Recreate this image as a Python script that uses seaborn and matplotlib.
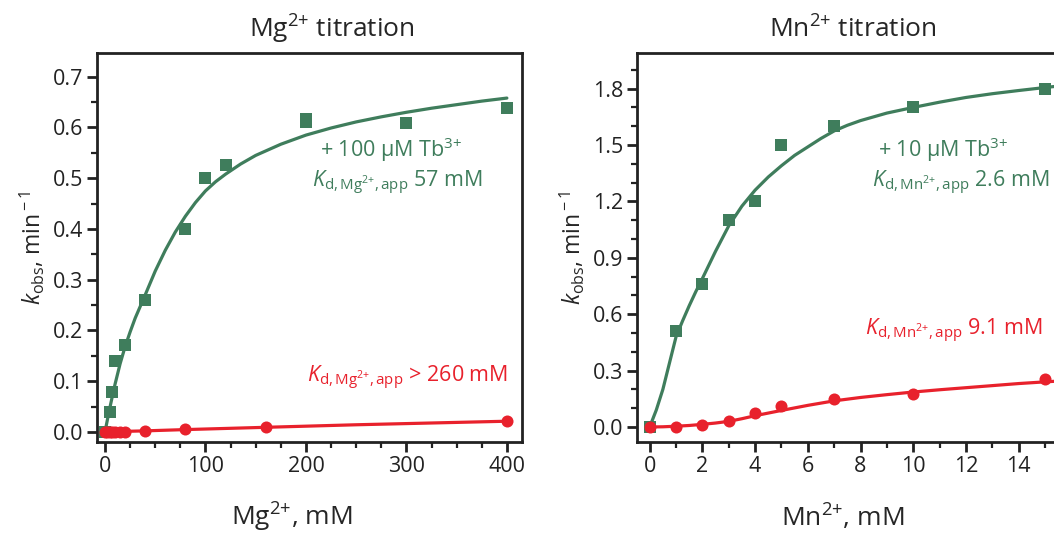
import matplotlib
matplotlib.use('Agg')
import matplotlib.pyplot as plt
import matplotlib.ticker as mticker
import pandas as pd
import seaborn as sns

sns.set_style("ticks")
plt.rcParams['font.family'] = ['Open Sans', 'DejaVu Sans']
plt.rcParams['mathtext.fontset'] = 'custom'
plt.rcParams['mathtext.rm'] = 'Open Sans'
plt.rcParams['mathtext.it'] = 'Open Sans:italic'
plt.rcParams['mathtext.bf'] = 'Open Sans:bold'

green = '#3f7d5c'
red = '#e8212c'

# _____Mg2+ titration data_____
mg_tb_x = [0, 5, 7, 10, 20, 40, 80, 100, 120, 200, 200, 300, 400]
mg_tb_y = [0.0, 0.039, 0.079, 0.14, 0.171, 0.26, 0.40, 0.50, 0.526, 0.611, 0.616, 0.609, 0.639]
mg_x = [0, 2, 5, 7, 10, 15, 20, 40, 80, 160, 400]
mg_y = [0.0, 0.0, 0.0, 0.0, 0.0, 0.0, 0.0, 0.001, 0.005, 0.010, 0.021]
# fit curves
mg_tb_fit_x = [0, 2.5, 5, 7.5, 10, 15, 20, 25, 30, 40, 50, 60, 70, 80, 90, 100, 110, 120, 135,
               150, 175, 200, 225, 250, 275, 300, 325, 350, 375, 400]
mg_tb_fit_y = [0.0, 0.025, 0.049, 0.072, 0.094, 0.134, 0.168, 0.197, 0.224, 0.27, 0.317, 0.358,
               0.394, 0.425, 0.452, 0.475, 0.493, 0.508, 0.528, 0.545, 0.567, 0.585, 0.599, 0.611,
               0.621, 0.630, 0.638, 0.645, 0.652, 0.658]
mg_fit_x = [0, 40, 80, 160, 250, 400]
mg_fit_y = [0.0, 0.002, 0.0045, 0.009, 0.014, 0.021]

# _____Mn2+ titration data_____
mn_tb_x = [0, 1, 2, 3, 4, 5, 7, 10, 15]
mn_tb_y = [0.0, 0.51, 0.76, 1.10, 1.20, 1.50, 1.60, 1.70, 1.80]
mn_x = [0, 1, 2, 3, 4, 5, 7, 10, 15]
mn_y = [0.0, 0.0, 0.01, 0.03, 0.076, 0.111, 0.147, 0.177, 0.253]
mn_tb_fit_x = [0, 0.25, 0.5, 0.75, 1, 1.25, 1.5, 1.75, 2, 2.5, 3, 3.5, 4, 4.5, 5, 5.5, 6, 6.5,
               7, 7.5, 8, 9, 10, 11, 12, 13, 14, 15, 15.6]
mn_tb_fit_y = [0.0, 0.09, 0.2, 0.34, 0.48, 0.565, 0.645, 0.72, 0.79, 0.935, 1.07, 1.175, 1.26,
               1.33, 1.39, 1.445, 1.49, 1.535, 1.575, 1.605, 1.63, 1.67, 1.70, 1.728, 1.753,
               1.773, 1.79, 1.806, 1.815]
mn_fit_x = [0, 0.5, 1, 1.5, 2, 2.5, 3, 3.5, 4, 5, 6, 7, 8, 9, 10, 11, 12, 13, 14, 15, 15.6]
mn_fit_y = [0.0, 0.001, 0.004, 0.008, 0.014, 0.021, 0.03, 0.044, 0.06, 0.088, 0.115, 0.139,
            0.157, 0.172, 0.186, 0.198, 0.209, 0.22, 0.231, 0.24, 0.245]

fig = plt.figure(figsize=(10.54, 5.33), dpi=100)
ax1 = fig.add_axes([0.092, 0.1707, 0.4032, 0.730])
ax2 = fig.add_axes([0.6044, 0.1707, 0.4013, 0.730])


def draw(ax, fx, fy, c, px, py, marker, size):
    sns.lineplot(x=fx, y=fy, color=c, lw=2.3, ax=ax, estimator=None, sort=False)
    sns.scatterplot(x=px, y=py, color=c, marker=marker, s=size, linewidth=0, ax=ax, zorder=3)


draw(ax1, mg_tb_fit_x, mg_tb_fit_y, green, mg_tb_x, mg_tb_y, 's', 70)
draw(ax1, mg_fit_x, mg_fit_y, red, mg_x, mg_y, 'o', 75)
draw(ax2, mn_tb_fit_x, mn_tb_fit_y, green, mn_tb_x, mn_tb_y, 's', 70)
draw(ax2, mn_fit_x, mn_fit_y, red, mn_x, mn_y, 'o', 75)

ax1.set_xlim(-8, 415)
ax1.set_ylim(-0.02, 0.747)
ax1.xaxis.set_major_locator(mticker.MultipleLocator(100))
ax1.xaxis.set_minor_locator(mticker.MultipleLocator(25))
ax1.yaxis.set_major_locator(mticker.MultipleLocator(0.1))
ax1.yaxis.set_minor_locator(mticker.MultipleLocator(0.05))
ax1.yaxis.set_major_formatter(mticker.FormatStrFormatter('%.1f'))

ax2.set_xlim(-0.48, 15.57)
ax2.set_ylim(-0.08, 1.99)
ax2.xaxis.set_major_locator(mticker.MultipleLocator(2))
ax2.xaxis.set_minor_locator(mticker.MultipleLocator(1))
ax2.yaxis.set_major_locator(mticker.MultipleLocator(0.3))
ax2.yaxis.set_minor_locator(mticker.MultipleLocator(0.1))
ax2.yaxis.set_major_formatter(mticker.FormatStrFormatter('%.1f'))

for ax in (ax1, ax2):
    for s in ax.spines.values():
        s.set_linewidth(2)
        s.set_color('#222222')
    ax.tick_params(which='major', length=7, width=2, labelsize=15.5, direction='out', pad=3, colors='#222222')
    ax.tick_params(which='minor', length=4, width=1.6, direction='out', colors='#222222')
    ax.set_xlabel('')
    ax.set_ylabel(r'$k_{\rm obs}$, min$^{\rm -1}$', fontsize=16.5, labelpad=4)

ax1.text(0.553, 1.06, r'Mg$^{\text{2+}}$ titration', transform=ax1.transAxes, ha='center', va='center', fontsize=19)
ax2.text(0.511, 1.06, r'Mn$^{\text{2+}}$ titration', transform=ax2.transAxes, ha='center', va='center', fontsize=19)
fig.text(292 / 1054, 1 - 517 / 533, r'Mg$^{\text{2+}}$, mM', ha='center', va='center', fontsize=19)
fig.text(843 / 1054, 1 - 517 / 533, r'Mn$^{\text{2+}}$, mM', ha='center', va='center', fontsize=19)

ax1.text(0.525, 0.75, r'+ 100 μM Tb$^{\text{3+}}$', transform=ax1.transAxes, color=green, fontsize=15.5, va='center')
ax1.text(0.505, 0.665, r'$K_{\rm d,Mg^{\text{2+}},app}$ 57 mM', transform=ax1.transAxes, color=green, fontsize=15.5, va='center')
ax1.text(0.495, 0.165, r'$K_{\rm d,Mg^{\text{2+}},app}$ > 260 mM', transform=ax1.transAxes, color=red, fontsize=15.5, va='center')

ax2.text(0.57, 0.75, r'+ 10 μM Tb$^{\text{3+}}$', transform=ax2.transAxes, color=green, fontsize=15.5, va='center')
ax2.text(0.555, 0.665, r'$K_{\rm d,Mn^{\text{2+}},app}$ 2.6 mM', transform=ax2.transAxes, color=green, fontsize=15.5, va='center')
ax2.text(0.54, 0.285, r'$K_{\rm d,Mn^{\text{2+}},app}$ 9.1 mM', transform=ax2.transAxes, color=red, fontsize=15.5, va='center')

fig.savefig('out.png', dpi=100)
